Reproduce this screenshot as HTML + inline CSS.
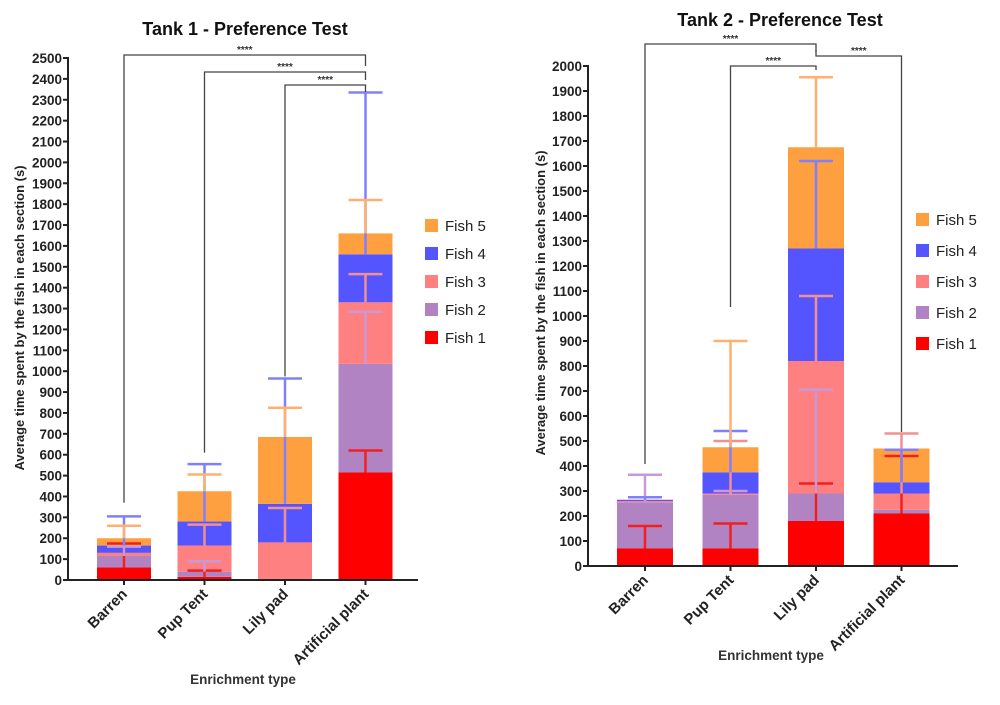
<!DOCTYPE html>
<html><head><meta charset="utf-8">
<style>
body{margin:0;background:#fff;}
svg{display:block;font-family:"Liberation Sans",sans-serif;}
</style></head>
<body>
<svg id="c" width="1000" height="705" viewBox="0 0 1000 705"></svg>
<script>
const categories = ["Barren","Pup Tent","Lily pad","Artificial plant"];
const seriesNames = ["Fish 1","Fish 2","Fish 3","Fish 4","Fish 5"];
const t1Fish1 = [60,15,0,515];
const t1Fish2 = [55,25,5,520];
const t1Fish3 = [15,125,175,295];
const t1Fish4 = [35,115,185,230];
const t1Fish5 = [35,145,320,100];
const t1Err1 = [115,30,0,105];
const t1Err2 = [45,50,0,250];
const t1Err3 = [0,100,165,135];
const t1Err4 = [140,275,600,775];
const t1Err5 = [60,80,140,160];
const t2Fish1 = [70,70,180,210];
const t2Fish2 = [185,215,110,15];
const t2Fish3 = [5,5,530,65];
const t2Fish4 = [5,85,450,45];
const t2Fish5 = [0,100,405,135];
const t2Err1 = [90,100,150,230];
const t2Err2 = [110,15,415,0];
const t2Err3 = [0,210,260,240];
const t2Err4 = [10,165,350,130];
const t2Err5 = [0,425,280,0];
const t1Ticks = [0,100,200,300,400,500,600,700,800,900,1000,1100,1200,1300,1400,1500,1600,1700,1800,1900,2000,2100,2200,2300,2400,2500];
const t2Ticks = [0,100,200,300,400,500,600,700,800,900,1000,1100,1200,1300,1400,1500,1600,1700,1800,1900,2000];
const colors = ["#ff0000","#b283c2","#ff8080","#5555ff","#ffa040"];
const errColors = ["#f02020","#c898d8","#f09090","#8080ff","#ffb070"];
const svg = document.getElementById('c');
const NS = "http://www.w3.org/2000/svg";
function mk(tag, attrs, parent){const e=document.createElementNS(NS,tag);for(const k in attrs)e.setAttribute(k,attrs[k]);(parent||svg).appendChild(e);return e;}

function chart(cfg){
  const g = mk('g',{});
  
  
  const y = v => cfg.y0 - v*(cfg.y0-cfg.yTop)/cfg.max;
  const x = i => cfg.x0c + i*cfg.step;
  const t = mk('text',{x:cfg.titleX,y:cfg.titleY,'text-anchor':'middle','font-size':18,'font-weight':'bold',fill:'#111'},g);
  t.textContent = cfg.title;
  
  
  const fish = cfg.fish, errs = cfg.errs;
  for(let i=0;i<categories.length;i++){
    let base=0;
    const tops=[];
    for(let s=0;s<5;s++){
      const v=fish[s][i];
      const r=mk('rect',{x:x(i)-cfg.bw/2,y:y(base+v),width:cfg.bw,height:Math.max(0,y(base)-y(base+v)),fill:colors[s]},g);
      
      
      base+=v; tops.push(base);
    }
    for(let s=0;s<5;s++){
      const e=errs[s][i]; if(!e) continue;
      const eg=mk('g',{stroke:errColors[s],'stroke-width':2.5},g);
      
      
      mk('line',{x1:x(i),x2:x(i),y1:y(tops[s]),y2:y(tops[s]+e)},eg);
      mk('line',{x1:x(i)-17,x2:x(i)+17,y1:y(tops[s]+e),y2:y(tops[s]+e)},eg);
    }
  }
  const ax=mk('g',{stroke:'#222','stroke-width':2},g);
  
  
  mk('line',{x1:cfg.axX,x2:cfg.axX,y1:y(cfg.max)-1,y2:cfg.y0+1},ax);
  mk('line',{x1:cfg.axX,x2:cfg.xEnd,y1:cfg.y0,y2:cfg.y0},ax);
  for(const tv of cfg.ticks){
    mk('line',{x1:cfg.axX-5,x2:cfg.axX,y1:y(tv),y2:y(tv)},ax);
    const tl=mk('text',{x:cfg.axX-6,y:y(tv)+5,'text-anchor':'end','font-size':13.5,'font-weight':'bold',fill:'#222',stroke:'none'},g);
    tl.textContent=tv;
    
    
  }
  for(let i=0;i<categories.length;i++){
    mk('line',{x1:x(i),x2:x(i),y1:cfg.y0,y2:cfg.y0+5},ax);
    const cl=mk('text',{x:x(i)+4,y:cfg.y0+15,'text-anchor':'end','font-size':15,'font-weight':'bold',fill:'#222',transform:`rotate(-45 ${x(i)+4} ${cfg.y0+15})`},g);
    cl.textContent=categories[i];
    
    
  }
  const xt=mk('text',{x:cfg.xtX,y:cfg.xtY,'text-anchor':'middle','font-size':13.5,'font-weight':'bold',fill:'#333'},g);
  xt.textContent='Enrichment type';
  
  
  const yt=mk('text',{x:0,y:0,'text-anchor':'middle','font-size':13,'font-weight':'bold',fill:'#222',transform:`translate(${cfg.ytX} ${cfg.ytY}) rotate(-90)`},g);
  yt.textContent='Average time spent by the fish in  each section (s)';
  
  
  for(const b of cfg.brackets){
    const bg=mk('g',{stroke:'#444','stroke-width':1.3,fill:'none'},g);
    
    
    mk('polyline',{points:`${x(b[0])},${b[3]} ${x(b[0])},${b[2]} ${x(b[1])},${b[2]} ${x(b[1])},${b[4]}`},bg);
    const st=mk('text',{x:(x(b[0])+x(b[1]))/2,y:b[2]-2,'text-anchor':'middle','font-size':10,'font-weight':'bold',fill:'#333'},g);
    st.textContent='****';
    
    
  }
  for(let s=4;s>=0;s--){
    const k=4-s;
    const lg=mk('g',{},g);
    
    
    mk('rect',{x:cfg.lgX,y:cfg.lgY+k*cfg.lgStep-7,width:13,height:13,fill:colors[s]},lg);
    const lt=mk('text',{x:cfg.lgX+20,y:cfg.lgY+k*cfg.lgStep+5,'font-size':15,fill:'#222'},lg);
    lt.textContent=seriesNames[s];
  }
}
chart({name:'tank1-chart',title:'Tank 1 - Preference Test',titleX:245,titleY:35,
  fish:[t1Fish1,t1Fish2,t1Fish3,t1Fish4,t1Fish5],errs:[t1Err1,t1Err2,t1Err3,t1Err4,t1Err5],
  y0:580,yTop:58,max:2500,ticks:t1Ticks,axX:68,xEnd:418,x0c:124,step:80.5,bw:54,
  xtX:243,xtY:684,ytX:24,ytY:318,
  brackets:[[0,3,55,425,66],[1,3,72,470,80],[2,3,85,480,92]].map(b=>[b[0],b[1],b[2],b[3]>200?(580-(b[0]==0?370:b[0]==1?610:975)*0.2088):b[3],b[4]]),
  lgX:425,lgY:226,lgStep:28});
chart({name:'tank2-chart',title:'Tank 2 - Preference Test',titleX:780,titleY:26,
  fish:[t2Fish1,t2Fish2,t2Fish3,t2Fish4,t2Fish5],errs:[t2Err1,t2Err2,t2Err3,t2Err4,t2Err5],
  y0:566,yTop:66,max:2000,ticks:t2Ticks,axX:588,xEnd:958,x0c:645,step:85.5,bw:56,
  xtX:771,xtY:660,ytX:545,ytY:303,
  brackets:[[0,2,44,464,52],[1,2,66,307,70],[2,3,56,50,432]],
  lgX:916,lgY:220,lgStep:31});
</script>
</body></html>
